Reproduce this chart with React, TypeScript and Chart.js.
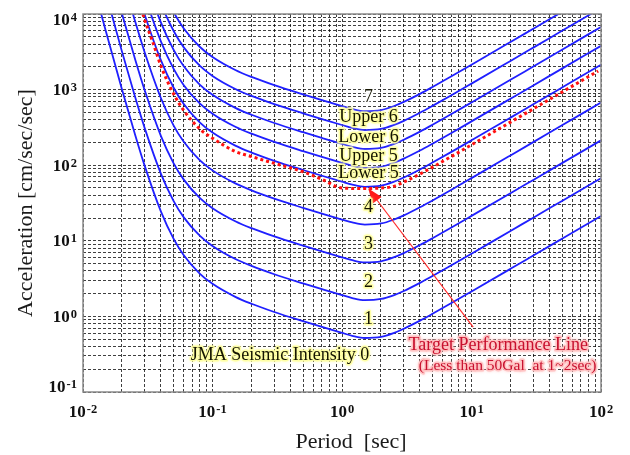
import React, { useEffect, useRef } from "react";
import { Chart, registerables } from "chart.js";

Chart.register(...registerables);

// Period axis samples [sec]
const PERIODS = [0.01, 0.012, 0.015, 0.02, 0.025, 0.03, 0.04, 0.05, 0.06, 0.08, 0.1, 0.15, 0.2, 0.3, 0.5, 0.7, 1, 1.2, 1.5, 2, 2.5, 3, 4, 5, 7, 10, 20, 30, 50, 100];

// JMA seismic intensity boundary curves [cm/sec/sec]
const B_0_1 = [78400, 24500, 5970, 1006, 268, 97.2, 24.3, 10.67, 6.44, 3.66, 2.7, 1.815, 1.47, 1.143, 0.864, 0.725, 0.605, 0.554, 0.518, 0.536, 0.602, 0.687, 0.879, 1.083, 1.5, 2.135, 4.26, 6.39, 10.65, 21.3];
const B_1_2 = [248000, 77500, 18900, 3180, 847, 307, 76.8, 33.7, 20.4, 11.6, 8.54, 5.74, 4.65, 3.61, 2.73, 2.29, 1.91, 1.75, 1.64, 1.7, 1.9, 2.17, 2.78, 3.42, 4.74, 6.75, 13.5, 20.2, 33.7, 67.4];
const B_2_3 = [784000, 245000, 59700, 10060, 2680, 972, 243, 106.7, 64.4, 36.6, 27.0, 18.15, 14.7, 11.43, 8.64, 7.25, 6.05, 5.54, 5.18, 5.36, 6.02, 6.87, 8.79, 10.83, 15.0, 21.35, 42.6, 63.9, 106.5, 213];
const B_3_4 = [2480000, 775000, 189000, 31800, 8475, 3074, 768, 337, 204, 115.7, 85.4, 57.4, 46.5, 36.1, 27.3, 22.9, 19.1, 17.5, 16.4, 16.95, 19.0, 21.7, 27.8, 34.2, 47.4, 67.5, 134.7, 202, 337, 674];
const B_4_5L = [7840000, 2450000, 597000, 100600, 26800, 9720, 2430, 1067, 644, 366, 270, 181.5, 147.0, 114.3, 86.4, 72.5, 60.5, 55.4, 51.8, 53.6, 60.2, 68.7, 87.9, 108.3, 150.0, 213.5, 426, 639, 1065, 2130];
const B_5L_5U = [13940000, 4357000, 1062000, 178900, 47660, 17285, 4321, 1897, 1145, 651, 480, 322.8, 261.4, 203.3, 153.6, 128.9, 107.6, 98.5, 92.1, 95.3, 107.1, 122.2, 156.3, 192.6, 266.7, 379.7, 757.6, 1136, 1894, 3788];
const B_5U_6L = [24790000, 7748000, 1888000, 318100, 84750, 30740, 7684, 3374, 2037, 1157, 853.8, 574, 464.9, 361.5, 273.2, 229.3, 191.3, 175.2, 163.8, 169.5, 190.4, 217.2, 278.0, 342.5, 474.3, 675.1, 1347, 2021, 3368, 6736];
const B_6L_6U = [44090000, 13780000, 3357000, 565700, 150700, 54660, 13665, 6000, 3621, 2058, 1518, 1020.6, 826.6, 642.7, 485.9, 407.7, 340.2, 311.5, 291.3, 301.4, 338.5, 386.3, 494.3, 609.0, 843.5, 1200.6, 2396, 3593, 5989, 11978];
const B_6U_7 = [78400000, 24500000, 5970000, 1006000, 268000, 97200, 24300, 10670, 6440, 3660, 2700, 1815, 1470, 1143, 864, 725, 605, 554, 518, 536, 602, 687, 879, 1083, 1500, 2135, 4260, 6390, 10650, 21300];
const BOUNDARIES = [B_0_1, B_1_2, B_2_3, B_3_4, B_4_5L, B_5L_5U, B_5U_6L, B_6L_6U, B_6U_7];

// Target performance line
const TARGET_PERIODS = [0.029, 0.03, 0.035, 0.04, 0.05, 0.06, 0.08, 0.1, 0.15, 0.2, 0.3, 0.5, 0.7, 1, 1.5, 2, 2.5, 3, 4, 5, 7, 10, 20, 30, 50, 95];
const TARGET_ACCEL = [10000, 8300, 4000, 2050, 880, 530, 300, 228, 152, 130, 106, 82, 65, 50, 49, 50, 52.4, 59.8, 76.5, 94.2, 130.5, 186, 371, 556, 927, 1760];

// Intensity labels
const INTENSITY_LABELS = ["1", "2", "3", "4", "Lower 5", "Upper 5", "Lower 6", "Upper 6", "7"];
const LABEL_PERIOD = 1.6;
const LABEL_ACCEL = [0.91, 2.82, 9.0, 27.8, 78, 132, 235, 432, 795];
const BASE_LABEL = "JMA Seismic Intensity 0";
const BASE_LABEL_POS = { x: 0.332, y: 0.304 };
const TARGET_TITLE = "Target Performance Line";
const TARGET_TITLE_POS = { x: 16.1, y: 0.413 };
const TARGET_NOTE = "(Less than 50Gal  at 1~2sec)";
const TARGET_NOTE_POS = { x: 19.0, y: 0.218 };
const ARROW_FROM = { x: 10.3, y: 0.72 };
const ARROW_TO = { x: 1.59, y: 49.5 };

// Axes
const X_DECADES = [-2, -1, 0, 1, 2];
const Y_DECADES = [-1, 0, 1, 2, 3, 4];
const X_TITLE = "Period  [sec]";
const Y_TITLE = "Acceleration [cm/sec/sec]";

function gridValues(decades: number[]) {
  const out: number[] = [];
  for (let i = 0; i < decades.length - 1; i++) {
    for (let m = 1; m <= 9; m++) out.push(m * Math.pow(10, decades[i]));
  }
  out.push(Math.pow(10, decades[decades.length - 1]));
  return out;
}

const SERIF = "'Liberation Serif', 'Times New Roman', serif";

function glowText(ctx: CanvasRenderingContext2D, text: string, x: number, y: number, font: string, fill: string, glow: string) {
  ctx.save();
  ctx.font = font;
  ctx.textAlign = "center";
  ctx.textBaseline = "middle";
  ctx.lineJoin = "round";
  ctx.shadowColor = glow;
  ctx.shadowBlur = 3;
  ctx.strokeStyle = glow;
  ctx.lineWidth = 3;
  ctx.strokeText(text, x, y);
  ctx.shadowBlur = 0;
  ctx.fillStyle = fill;
  ctx.fillText(text, x, y);
  ctx.restore();
}

function drawPow(ctx: CanvasRenderingContext2D, exp: number, x: number, baseline: number, align: "center" | "right") {
  const base = "10";
  const sup = exp < 0 ? "-" + Math.abs(exp) : String(exp);
  ctx.save();
  ctx.fillStyle = "#111";
  ctx.textAlign = "left";
  ctx.textBaseline = "alphabetic";
  ctx.font = "bold 17px " + SERIF;
  const wb = ctx.measureText(base).width;
  ctx.font = "bold 12.5px " + SERIF;
  const ws = ctx.measureText(sup).width;
  const total = wb + 1 + ws;
  const left = align === "center" ? x - total / 2 : x - total;
  ctx.font = "bold 17px " + SERIF;
  ctx.fillText(base, left, baseline);
  ctx.font = "bold 12.5px " + SERIF;
  ctx.fillText(sup, left + wb + 1, baseline - 4);
  ctx.restore();
}

const decorPlugin = {
  id: "decor",
  afterDatasetsDraw(chart: any) {
    const { ctx, chartArea: a } = chart;
    ctx.save();
    ctx.strokeStyle = "#8a8a8a";
    ctx.lineWidth = 1.5;
    ctx.strokeRect(a.left, a.top, a.right - a.left, a.bottom - a.top);
    ctx.restore();
  },
  afterDraw(chart: any) {
    const { ctx, chartArea: a } = chart;
    const xs = chart.scales.x;
    const ys = chart.scales.y;

    X_DECADES.forEach((e) => {
      const px = xs.getPixelForValue(Math.pow(10, e));
      drawPow(ctx, e, px, a.bottom + 25, "center");
    });
    Y_DECADES.forEach((e) => {
      const py = ys.getPixelForValue(Math.pow(10, e));
      const c = Math.min(Math.max(py, a.top + 5), a.bottom - 6);
      drawPow(ctx, e, a.left - 6, c + 5.5, "right");
    });

    ctx.save();
    ctx.fillStyle = "#1a1a1a";
    ctx.font = "22px " + SERIF;
    ctx.textAlign = "center";
    ctx.textBaseline = "middle";
    ctx.fillText(X_TITLE, (a.left + a.right) / 2 + 9, a.bottom + 50);
    ctx.translate(26, (a.top + a.bottom) / 2);
    ctx.rotate(-Math.PI / 2);
    ctx.fillText(Y_TITLE, 0, 0);
    ctx.restore();

    const fx = xs.getPixelForValue(ARROW_FROM.x), fy = ys.getPixelForValue(ARROW_FROM.y);
    const tx = xs.getPixelForValue(ARROW_TO.x), ty = ys.getPixelForValue(ARROW_TO.y);
    const ang = Math.atan2(ty - fy, tx - fx);
    const hl = 15, hw = 5.5;
    const bx = tx - hl * Math.cos(ang), by = ty - hl * Math.sin(ang);
    ctx.save();
    ctx.strokeStyle = "#ff2a2a";
    ctx.fillStyle = "#ff1a1a";
    ctx.lineWidth = 1.2;
    ctx.beginPath();
    ctx.moveTo(fx, fy);
    ctx.lineTo(bx, by);
    ctx.stroke();
    ctx.beginPath();
    ctx.moveTo(tx, ty);
    ctx.lineTo(bx + hw * Math.sin(ang), by - hw * Math.cos(ang));
    ctx.lineTo(bx - hw * Math.sin(ang), by + hw * Math.cos(ang));
    ctx.closePath();
    ctx.fill();
    ctx.restore();

    const lx = xs.getPixelForValue(LABEL_PERIOD);
    INTENSITY_LABELS.forEach((t, i) => {
      const py = ys.getPixelForValue(LABEL_ACCEL[i]);
      const glow = t === "7" ? "rgba(255,255,255,0.95)" : "rgba(255,255,160,0.85)";
      glowText(ctx, t, lx, py, "18px " + SERIF, "#141400", glow);
    });
    glowText(ctx, BASE_LABEL, xs.getPixelForValue(BASE_LABEL_POS.x), ys.getPixelForValue(BASE_LABEL_POS.y), "18px " + SERIF, "#141400", "rgba(255,255,160,0.85)");
    glowText(ctx, TARGET_TITLE, xs.getPixelForValue(TARGET_TITLE_POS.x), ys.getPixelForValue(TARGET_TITLE_POS.y), "18px " + SERIF, "#c8102e", "rgba(255,190,190,0.85)");
    glowText(ctx, TARGET_NOTE, xs.getPixelForValue(TARGET_NOTE_POS.x), ys.getPixelForValue(TARGET_NOTE_POS.y), "15.5px " + SERIF, "#c8102e", "rgba(255,190,190,0.85)");
  },
};

export default function App() {
  const ref = useRef<HTMLCanvasElement | null>(null);
  useEffect(() => {
    document.body.style.margin = "0";
    const canvas = ref.current;
    if (!canvas) return;
    const datasets: any[] = [
      {
        label: "Target Performance Line",
        data: TARGET_PERIODS.map((x, i) => ({ x, y: TARGET_ACCEL[i] })),
        borderColor: "#ff1010",
        borderWidth: 3,
        borderDash: [3, 3],
        borderCapStyle: "butt",
        pointRadius: 0,
        cubicInterpolationMode: "monotone",
        order: 0,
      },
      ...BOUNDARIES.map((vals, k) => ({
        label: "Boundary " + k,
        data: PERIODS.map((x, i) => ({ x, y: vals[i] })),
        borderColor: "#1f1fff",
        borderWidth: 1.8,
        pointRadius: 0,
        cubicInterpolationMode: "monotone",
        order: 1,
      })),
    ];
    const xGrid = gridValues(X_DECADES);
    const yGrid = gridValues(Y_DECADES);
    const gridOpts = { color: "rgba(0,0,0,0.75)", lineWidth: 1, drawTicks: false };
    const chart = new Chart(canvas, {
      type: "line",
      data: { datasets },
      options: {
        animation: false,
        responsive: false,
        events: [],
        capBezierPoints: false,
        layout: { padding: { left: 83, right: 29, top: 14, bottom: 63 } },
        plugins: { legend: { display: false }, tooltip: { enabled: false }, title: { display: false } },
        scales: {
          x: {
            type: "logarithmic",
            min: 0.01,
            max: 100,
            grid: gridOpts,
            border: { display: false, dash: [3, 2] },
            ticks: { display: false },
            afterBuildTicks: (s: any) => { s.ticks = xGrid.map((v) => ({ value: v })); },
            afterFit: (s: any) => { s.height = 0; },
          },
          y: {
            type: "logarithmic",
            min: 0.1,
            max: 10000,
            grid: gridOpts,
            border: { display: false, dash: [3, 2] },
            ticks: { display: false },
            afterBuildTicks: (s: any) => { s.ticks = yGrid.map((v) => ({ value: v })); },
            afterFit: (s: any) => { s.width = 0; },
          },
        },
      } as any,
      plugins: [decorPlugin as any],
    });
    return () => chart.destroy();
  }, []);
  return (
    <div style={{ width: 630, height: 455 }}>
      <canvas ref={ref} width={630} height={455} style={{ display: "block" }} />
    </div>
  );
}
